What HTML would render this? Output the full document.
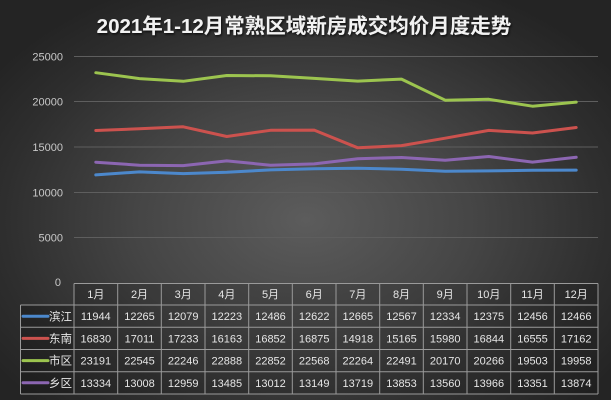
<!DOCTYPE html>
<html><head><meta charset="utf-8">
<style>
html,body{margin:0;padding:0;}
body{width:611px;height:400px;overflow:hidden;background:radial-gradient(ellipse 62% 65% at 50% 55%, #5c5c5c 0%, #454545 45%, #2e2e2e 80%, #242424 100%);font-family:"Liberation Sans","Noto Sans CJK SC",sans-serif;}
svg{position:absolute;left:0;top:0;}
</style></head><body>
<svg width="611" height="400" viewBox="0 0 611 400" xmlns="http://www.w3.org/2000/svg">
<defs>
<filter id="sh" x="-5%" y="-30%" width="110%" height="160%"><feDropShadow dx="1" dy="1.5" stdDeviation="1" flood-color="#000" flood-opacity="0.7"/></filter>
</defs>
<text x="304" y="33" text-anchor="middle" fill="#f2f2f2" font-size="20.5" font-weight="bold" filter="url(#sh)" font-family="Liberation Sans, Noto Sans CJK SC, sans-serif">2021年1-12月常熟区域新房成交均价月度走势</text>
<g stroke="#5e5e5e" stroke-width="1">
<line x1="74" y1="56.5" x2="598" y2="56.5"/>
<line x1="74" y1="101.5" x2="598" y2="101.5"/>
<line x1="74" y1="147" x2="598" y2="147"/>
<line x1="74" y1="192.5" x2="598" y2="192.5"/>
<line x1="74" y1="237.5" x2="598" y2="237.5"/>
</g>
<g fill="#c8c8c8" font-size="11" text-anchor="end">
<text x="63" y="60.5">25000</text>
<text x="63" y="105.5">20000</text>
<text x="63" y="151">15000</text>
<text x="63" y="196.5">10000</text>
<text x="63" y="241.5">5000</text>
<text x="61" y="286">0</text>
</g>
<g fill="none" stroke-width="3" stroke-linejoin="round" stroke-linecap="round">
<polyline stroke="#9cc44f" points="95.8,72.7 139.5,78.6 183.2,81.3 226.8,75.5 270.5,75.8 314.2,78.4 357.8,81.1 401.5,79.1 445.2,100.2 488.8,99.3 532.5,106.2 576.2,102.1"/>
<polyline stroke="#cc524e" points="95.8,130.5 139.5,128.8 183.2,126.8 226.8,136.5 270.5,130.3 314.2,130.1 357.8,147.8 401.5,145.6 445.2,138.2 488.8,130.4 532.5,133.0 576.2,127.5"/>
<polyline stroke="#8c66b2" points="95.8,162.2 139.5,165.2 183.2,165.6 226.8,160.9 270.5,165.2 314.2,163.9 357.8,158.7 401.5,157.5 445.2,160.2 488.8,156.5 532.5,162.1 576.2,157.3"/>
<polyline stroke="#4c88cc" points="95.8,174.85 139.5,171.9 183.2,173.6 226.8,172.3 270.5,169.9 314.2,168.7 357.8,168.3 401.5,169.2 445.2,171.3 488.8,170.9 532.5,170.2 576.2,170.1"/>
</g>
<rect x="74" y="283.5" width="524" height="110.5" fill="rgba(0,0,0,0.12)"/>
<rect x="20.5" y="305" width="53.5" height="89" fill="rgba(0,0,0,0.18)"/>
<g stroke="#9a9a9a" stroke-width="1" fill="none">
<line x1="74" y1="283.5" x2="598" y2="283.5"/>
<line x1="20.5" y1="305" x2="598" y2="305"/>
<line x1="20.5" y1="327.3" x2="598" y2="327.3"/>
<line x1="20.5" y1="349.5" x2="598" y2="349.5"/>
<line x1="20.5" y1="371.7" x2="598" y2="371.7"/>
<line x1="20.5" y1="394" x2="598" y2="394"/>
<line x1="20.5" y1="305" x2="20.5" y2="394"/>
<line x1="74" y1="283.5" x2="74" y2="394"/>
<line x1="117.7" y1="283.5" x2="117.7" y2="394"/>
<line x1="161.3" y1="283.5" x2="161.3" y2="394"/>
<line x1="205" y1="283.5" x2="205" y2="394"/>
<line x1="248.7" y1="283.5" x2="248.7" y2="394"/>
<line x1="292.3" y1="283.5" x2="292.3" y2="394"/>
<line x1="336" y1="283.5" x2="336" y2="394"/>
<line x1="379.7" y1="283.5" x2="379.7" y2="394"/>
<line x1="423.3" y1="283.5" x2="423.3" y2="394"/>
<line x1="467" y1="283.5" x2="467" y2="394"/>
<line x1="510.7" y1="283.5" x2="510.7" y2="394"/>
<line x1="554.3" y1="283.5" x2="554.3" y2="394"/>
<line x1="598" y1="283.5" x2="598" y2="394"/>
</g>
<g stroke-width="3" stroke-linecap="round">
<line x1="23" y1="316.2" x2="48" y2="316.2" stroke="#4c88cc"/>
<line x1="23" y1="338.4" x2="48" y2="338.4" stroke="#cc524e"/>
<line x1="23" y1="360.6" x2="48" y2="360.6" stroke="#9cc44f"/>
<line x1="23" y1="382.8" x2="48" y2="382.8" stroke="#8c66b2"/>
</g>
<g fill="#e6e6e6" font-size="11.5">
<text x="49" y="320.3">滨江</text>
<text x="49" y="342.5">东南</text>
<text x="49" y="364.7">市区</text>
<text x="49" y="386.9">乡区</text>
</g>
<g fill="#e6e6e6" font-size="11" text-anchor="middle">
<text x="95.8" y="298">1月</text><text x="139.5" y="298">2月</text><text x="183.2" y="298">3月</text><text x="226.8" y="298">4月</text><text x="270.5" y="298">5月</text><text x="314.2" y="298">6月</text><text x="357.8" y="298">7月</text><text x="401.5" y="298">8月</text><text x="445.2" y="298">9月</text><text x="488.8" y="298">10月</text><text x="532.5" y="298">11月</text><text x="576.2" y="298">12月</text>
<text x="95.8" y="320.2">11944</text><text x="139.5" y="320.2">12265</text><text x="183.2" y="320.2">12079</text><text x="226.8" y="320.2">12223</text><text x="270.5" y="320.2">12486</text><text x="314.2" y="320.2">12622</text><text x="357.8" y="320.2">12665</text><text x="401.5" y="320.2">12567</text><text x="445.2" y="320.2">12334</text><text x="488.8" y="320.2">12375</text><text x="532.5" y="320.2">12456</text><text x="576.2" y="320.2">12466</text>
<text x="95.8" y="342.4">16830</text><text x="139.5" y="342.4">17011</text><text x="183.2" y="342.4">17233</text><text x="226.8" y="342.4">16163</text><text x="270.5" y="342.4">16852</text><text x="314.2" y="342.4">16875</text><text x="357.8" y="342.4">14918</text><text x="401.5" y="342.4">15165</text><text x="445.2" y="342.4">15980</text><text x="488.8" y="342.4">16844</text><text x="532.5" y="342.4">16555</text><text x="576.2" y="342.4">17162</text>
<text x="95.8" y="364.6">23191</text><text x="139.5" y="364.6">22545</text><text x="183.2" y="364.6">22246</text><text x="226.8" y="364.6">22888</text><text x="270.5" y="364.6">22852</text><text x="314.2" y="364.6">22568</text><text x="357.8" y="364.6">22264</text><text x="401.5" y="364.6">22491</text><text x="445.2" y="364.6">20170</text><text x="488.8" y="364.6">20266</text><text x="532.5" y="364.6">19503</text><text x="576.2" y="364.6">19958</text>
<text x="95.8" y="386.8">13334</text><text x="139.5" y="386.8">13008</text><text x="183.2" y="386.8">12959</text><text x="226.8" y="386.8">13485</text><text x="270.5" y="386.8">13012</text><text x="314.2" y="386.8">13149</text><text x="357.8" y="386.8">13719</text><text x="401.5" y="386.8">13853</text><text x="445.2" y="386.8">13560</text><text x="488.8" y="386.8">13966</text><text x="532.5" y="386.8">13351</text><text x="576.2" y="386.8">13874</text>
</g>
</svg>
</body></html>
